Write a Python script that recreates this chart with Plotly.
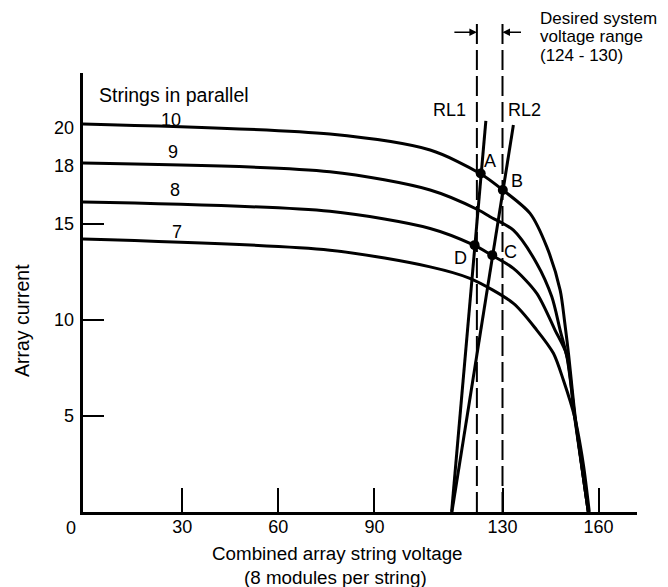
import plotly.graph_objects as go

# ---------------- data ----------------
# I-V curves for 10, 9, 8, 7 strings in parallel
v10 = [-1, 76.1, 107.4, 123.0, 130.1, 138.6, 143.8, 148.0, 149.4, 150.6, 152.7, 156.8]
i10 = [20.2, 19.67, 18.84, 17.62, 16.76, 15.54, 13.81, 11.55, 9.9, 8.26, 4.96, 0]

v9 = [-1, 76.1, 107.4, 122.5, 126.1, 133.4, 140.7, 145.4, 148.0, 150.2, 152.6, 156.8]
i9 = [18.16, 17.71, 16.76, 15.72, 15.37, 14.67, 12.94, 11.2, 9.47, 8.0, 4.96, 0]

v8 = [-1, 76.1, 107.4, 121.1, 126.6, 133.4, 140.7, 146.4, 150.0, 152.5, 156.8]
i8 = [16.13, 15.65, 14.76, 13.89, 13.37, 12.68, 11.38, 9.47, 8.2, 4.96, 0]

v7 = [-1, 76.1, 107.4, 119.8, 133.4, 140.7, 145.9, 149.0, 152.5, 155.2, 157.1]
i7 = [14.21, 13.63, 12.76, 12.16, 10.86, 9.47, 8.26, 6.87, 4.96, 2.53, 0]

curve_names = ["10", "9", "8", "7"]
curve_label_v = [26.5, 27.0, 27.7, 28.3]
curve_label_i = [20.4, 18.75, 16.76, 14.59]

# load lines
rl1_v = [114.1, 124.8]
rl1_i = [0, 20.36]
rl2_v = [114.2, 133.4]
rl2_i = [0, 20.14]

# operating points
pt_names = ["A", "B", "C", "D"]
pt_v = [123.2, 130.1, 126.8, 121.3]
pt_i = [17.62, 16.76, 13.37, 13.89]

# desired voltage range (dashed lines as drawn)
range_lo = 122
range_hi = 130

x_ticks = [30, 60, 90, 130, 160]
y_ticks = [5, 10, 15]
y_labels = [5, 10, 15, 18, 20]
x_range = [-1, 172]
y_range = [0, 22.85]

FONT = "Liberation Sans, Arial, DejaVu Sans, sans-serif"
FS = 18

fig = go.Figure()
line_style = dict(color="black", width=3)
for v, i in [(v10, i10), (v9, i9), (v8, i8), (v7, i7)]:
    fig.add_trace(go.Scatter(x=v, y=i, mode="lines",
                             line=dict(shape="spline", smoothing=0.8, **line_style),
                             hoverinfo="skip", showlegend=False))

fig.add_trace(go.Scatter(x=rl1_v, y=rl1_i, mode="lines", line=line_style, showlegend=False, hoverinfo="skip"))
fig.add_trace(go.Scatter(x=rl2_v, y=rl2_i, mode="lines", line=line_style, showlegend=False, hoverinfo="skip"))

fig.add_trace(go.Scatter(x=pt_v, y=pt_i, mode="markers", marker=dict(color="black", size=10),
                         showlegend=False, hoverinfo="skip", yaxis="y2"))

# dashed range lines
for xv, top in [(range_lo, 1.121), (range_hi, 1.113)]:
    fig.add_shape(type="line", xref="x", yref="paper", x0=xv, x1=xv, y0=0, y1=top,
                  line=dict(color="black", width=2, dash="20px,6px"))

C = dict(xanchor="center", yanchor="middle", showarrow=False)
L = dict(xanchor="left", yanchor="middle", showarrow=False)
ann = []
# point labels
pt_shift = {"A": (9, 12), "B": (14, 9), "C": (18, 3), "D": (-14, -13)}
for n, v, i in zip(pt_names, pt_v, pt_i):
    dx, dy = pt_shift[n]
    ann.append(dict(x=v, y=i, xref="x", yref="y", text=n, xshift=dx, yshift=dy,
                    font=dict(size=FS), **C))
# curve labels
for n, v, i in zip(curve_names, curve_label_v, curve_label_i):
    ann.append(dict(x=v, y=i, xref="x", yref="y", text=n, font=dict(size=FS), **C))

ann += [
    dict(x=3.4, y=21.7, xref="x", yref="y", text="Strings in parallel",
         font=dict(size=19.5), **L),
    dict(x=113.6, y=20.92, xref="x", yref="y", text="RL1", font=dict(size=FS), **C),
    dict(x=137.0, y=20.92, xref="x", yref="y", text="RL2", font=dict(size=FS), **C),
    dict(x=0.821, y=1.125, xref="paper", yref="paper", text="Desired system",
         font=dict(size=17), **L),
    dict(x=0.821, y=1.083, xref="paper", yref="paper", text="voltage range",
         font=dict(size=17), **L),
    dict(x=0.821, y=1.041, xref="paper", yref="paper", text="(124 - 130)",
         font=dict(size=17), **L),
    dict(x=range_lo, y=1.093, xref="x", yref="paper", ax=-24, ay=0, text="", showarrow=True,
         arrowhead=2, arrowsize=1, arrowwidth=1.5, arrowcolor="black"),
    dict(x=range_hi, y=1.093, xref="x", yref="paper", ax=20, ay=0, text="", showarrow=True,
         arrowhead=2, arrowsize=1, arrowwidth=1.5, arrowcolor="black"),
    dict(x=-0.0217, y=-0.036, xref="paper", yref="paper", text="0", font=dict(size=FS), **C),
    dict(x=0.460, y=-0.0934, xref="paper", yref="paper", text="Combined array string voltage",
         font=dict(size=18.8), **C),
    dict(x=0.455, y=-0.150, xref="paper", yref="paper", text="(8 modules per string)",
         font=dict(size=18.8), **C),
    dict(x=-0.110, y=0.435, xref="paper", yref="paper", text="Array current", textangle=-90,
         font=dict(size=19.5), **C),
]

# the page body adds an 8px offset, so the figure is laid out 8px up/left
fig.update_layout(
    width=668, height=587,
    margin=dict(l=75, r=39, t=65, b=83),
    paper_bgcolor="white", plot_bgcolor="white",
    font=dict(family=FONT, size=FS, color="black"),
    showlegend=False,
    annotations=ann,
    xaxis=dict(range=x_range, showline=True, linecolor="black", linewidth=2.5, mirror=False,
               ticks="inside", tickvals=x_ticks, ticklen=24, tickwidth=2, tickcolor="black",
               showgrid=False, zeroline=False, ticklabelstandoff=-3, tickfont=dict(size=FS)),
    yaxis=dict(range=y_range, showline=True, linecolor="black", linewidth=2.5,
               ticks="inside", tickvals=y_ticks, ticklen=21, tickwidth=2, tickcolor="black",
               showgrid=False, zeroline=False, showticklabels=False),
    yaxis2=dict(range=y_range, overlaying="y", side="left", showline=False, ticks="",
                tickvals=y_labels, showgrid=False, zeroline=False, ticklabelstandoff=8,
                tickfont=dict(size=FS)),
)

fig.write_html("out.html")
